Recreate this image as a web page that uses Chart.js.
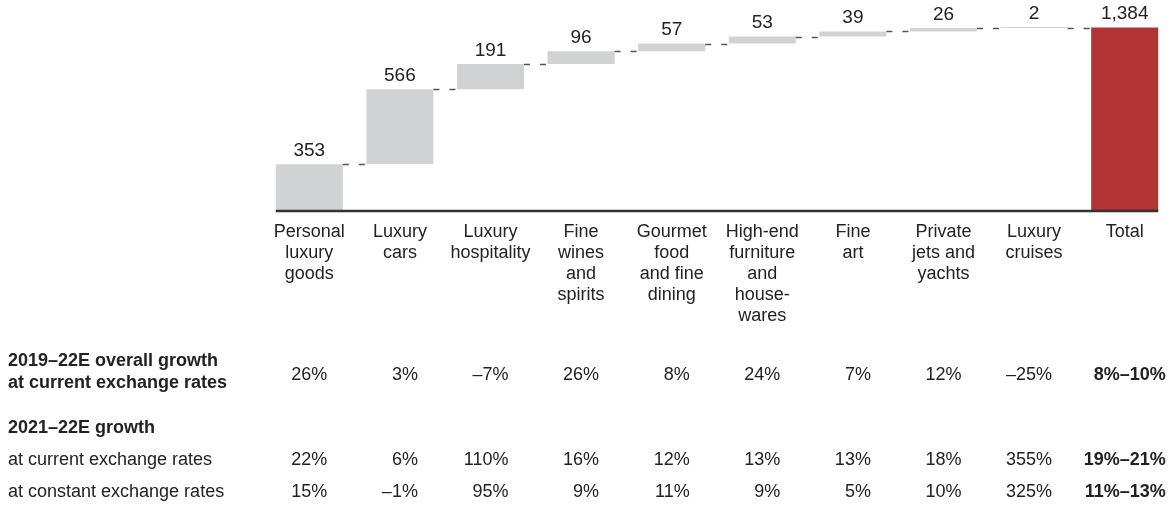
<!DOCTYPE html>
<html>
<head>
<meta charset="utf-8">
<script src="https://cdn.jsdelivr.net/npm/chart.js@4/dist/chart.umd.min.js"></script>
<style>
  html, body { margin: 0; padding: 0; background: #fff; }
  #wrap { width: 1173px; height: 509px; position: relative; }
</style>
</head>
<body>
<div id="wrap"><canvas id="luxChart"></canvas></div>
<script>
// chart data
var categories = [
    ['Personal', 'luxury', 'goods'],
    ['Luxury', 'cars'],
    ['Luxury', 'hospitality'],
    ['Fine', 'wines', 'and', 'spirits'],
    ['Gourmet', 'food', 'and fine', 'dining'],
    ['High-end', 'furniture', 'and', 'house-', 'wares'],
    ['Fine', 'art'],
    ['Private', 'jets and', 'yachts'],
    ['Luxury', 'cruises'],
    ['Total']
];
var increments = [353, 566, 191, 96, 57, 53, 39, 26, 2];
var total = 1384;

var rowLabels = ['2019–22E overall growth', 'at current exchange rates', '2021–22E growth',
    'at current exchange rates', 'at constant exchange rates'];
var growth1922 = ['26%', '3%', '–7%', '26%', '8%', '24%', '7%', '12%', '–25%', '8%–10%'];
var growthCurrent = ['22%', '6%', '110%', '16%', '12%', '13%', '13%', '18%', '355%', '19%–21%'];
var growthConstant = ['15%', '–1%', '95%', '9%', '11%', '9%', '5%', '10%', '325%', '11%–13%'];

// build the floating bars
var bars = []
var run = 0
for (var i = 0; i < increments.length; i++) {
    bars.push([run, run + increments[i]])
    run += increments[i]
}
bars.push([0, total])
var valueLabels = increments.map(String).concat([total.toLocaleString('en-US')])

var FONT = '"Liberation Sans", Arial, sans-serif'
var grey = '#d1d2d4'
var red = '#b13333'

// connectors, axis line, value labels and the table below
var extras = {
    id: 'extras',
    afterDatasetsDraw: function (chart) {
        var c = chart.ctx
        var meta = chart.getDatasetMeta(0)
        var x = chart.scales.x, y = chart.scales.y
        c.save()
        // dashed connectors
        c.strokeStyle = '#555'
        c.lineWidth = 1.5
        c.setLineDash([6, 10])
        for (var i = 0; i < meta.data.length - 1; i++) {
            var a = meta.data[i], b = meta.data[i + 1]
            var yy = Math.round(y.getPixelForValue(bars[i][1])) + 0.5
            c.beginPath()
            c.moveTo(a.x + a.width / 2, yy)
            c.lineTo(b.x - b.width / 2, yy)
            c.stroke()
        }
        c.setLineDash([])
        // axis line
        var first = meta.data[0], last = meta.data[meta.data.length - 1]
        c.strokeStyle = '#333'
        c.lineWidth = 2.5
        c.beginPath()
        c.moveTo(first.x - first.width / 2, y.bottom)
        c.lineTo(last.x + last.width / 2, y.bottom)
        c.stroke()
        // value labels
        c.fillStyle = '#222'
        c.font = '19px ' + FONT
        c.textAlign = 'center'
        c.textBaseline = 'bottom'
        meta.data.forEach(function (bar, i) {
            c.fillText(valueLabels[i], bar.x, y.getPixelForValue(bars[i][1]) - 4)
        })
        // table
        c.textBaseline = 'middle'
        c.font = 'bold 18px ' + FONT
        c.textAlign = 'left'
        c.fillText(rowLabels[0], 8, 361)
        c.fillText(rowLabels[1], 8, 383)
        c.fillText(rowLabels[2], 8, 428)
        c.font = '18px ' + FONT
        c.fillText(rowLabels[3], 8, 460)
        c.fillText(rowLabels[4], 8, 492)
        var rows = [[growth1922, 375], [growthCurrent, 460], [growthConstant, 492]]
        c.textAlign = 'right'
        rows.forEach(function (r) {
            r[0].forEach(function (v, i) {
                var last = i === r[0].length - 1
                c.font = (last ? 'bold ' : '') + '18px ' + FONT
                var px = x.getPixelForValue(i) + (last ? 41 : 18)
                c.fillText(v, px, r[1])
            })
        })
        c.restore()
    }
}

var ctx = document.getElementById('luxChart').getContext('2d')
var chart = new Chart(ctx, {
    type: 'bar',
    data: {
        labels: categories,
        datasets: [{
            data: bars,
            backgroundColor: bars.map(function (b, i) { return i === bars.length - 1 ? red : grey }),
            borderWidth: 0,
            minBarLength: 1,
            barPercentage: 0.74,
            categoryPercentage: 1
        }]
    },
    options: {
        responsive: true,
        maintainAspectRatio: false,
        animation: false,
        layout: { padding: { left: 264, right: 3, top: 0, bottom: 0 } },
        plugins: { legend: { display: false }, tooltip: { enabled: false } },
        scales: {
            x: {
                grid: { display: false, drawTicks: false },
                border: { display: false },
                ticks: {
                    color: '#222',
                    padding: 11,
                    maxRotation: 0,
                    autoSkip: false,
                    font: { family: FONT, size: 18, lineHeight: 1.167 }
                },
                afterFit: function (s) { s.height = 298 }
            },
            y: {
                display: false,
                min: 0,
                max: 1592
            }
        }
    },
    plugins: [extras]
});
</script>
</body>
</html>
